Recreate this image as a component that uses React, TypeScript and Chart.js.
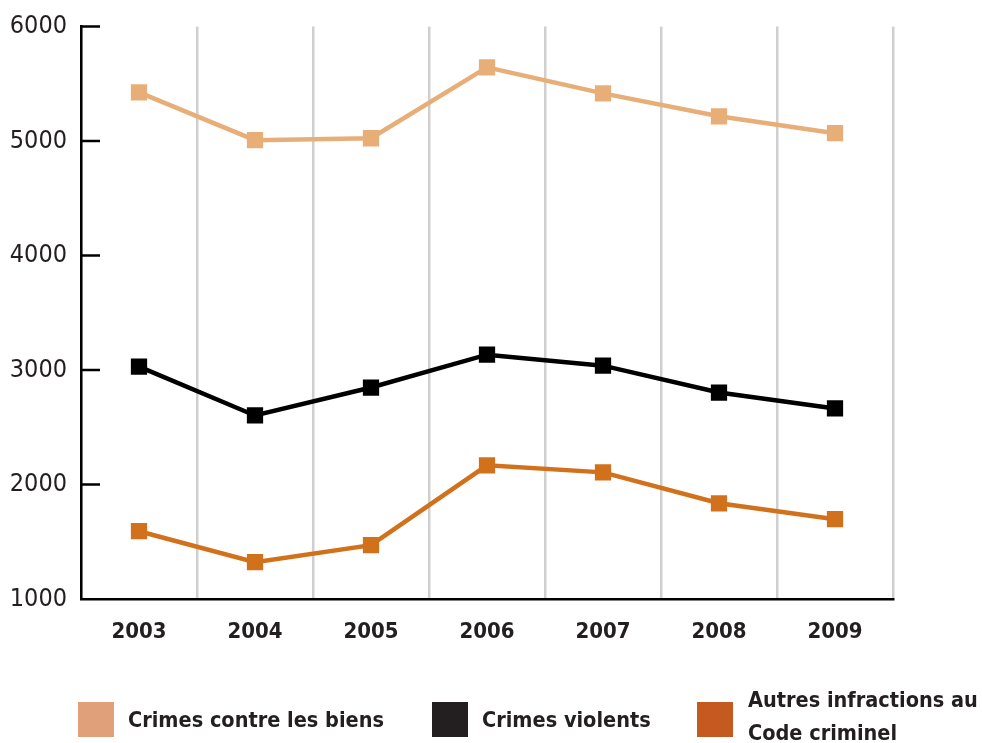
import React, { useEffect, useRef } from "react";
import { Chart, registerables } from "chart.js";

Chart.register(...registerables);

const years = ["2003", "2004", "2005", "2006", "2007", "2008", "2009"];
const crimesBiens = [5425, 5007, 5024, 5643, 5416, 5216, 5068];
const crimesViolents = [3030, 2603, 2847, 3134, 3038, 2803, 2664];
const autresInfractions = [1592, 1322, 1470, 2167, 2106, 1836, 1697];
const yTicks = [1000, 2000, 3000, 4000, 5000, 6000];

const FONT = '"DejaVu Sans Condensed", "Open Sans", sans-serif';
const TEXT = "#231f20";

const legendItems = [
  { label: ["Crimes contre les biens"], color: "#e0a07a", x: 78, textX: 128 },
  { label: ["Crimes violents"], color: "#231f20", x: 432, textX: 482 },
  { label: ["Autres infractions au", "Code criminel"], color: "#c45a20", x: 697, textX: 748 },
];

// Short inward tick marks on the value axis
const innerTicks = {
  id: "innerTicks",
  afterDraw(chart: any) {
    const { ctx, scales, chartArea } = chart;
    const y = scales.y;
    ctx.save();
    ctx.strokeStyle = "#000";
    ctx.lineWidth = 2.5;
    yTicks.forEach((v) => {
      if (v === 1000) return;
      const py = y.getPixelForValue(v);
      ctx.beginPath();
      ctx.moveTo(chartArea.left, py);
      ctx.lineTo(chartArea.left + 19, py);
      ctx.stroke();
    });
    ctx.restore();
  },
};

export default function App() {
  const ref = useRef<HTMLCanvasElement>(null);

  useEffect(() => {
    if (!ref.current) return;
    const ds = (label: string, data: number[], color: string) => ({
      label,
      data,
      borderColor: color,
      backgroundColor: color,
      borderWidth: 4.5,
      pointStyle: "rect" as const,
      pointRadius: 11.5,
      pointBorderWidth: 0,
      pointHoverRadius: 11.5,
      tension: 0,
    });
    const chart = new Chart(ref.current, {
      type: "line",
      data: {
        labels: years,
        datasets: [
          ds("Crimes contre les biens", crimesBiens, "#e8ae78"),
          ds("Crimes violents", crimesViolents, "#000000"),
          ds("Autres infractions au Code criminel", autresInfractions, "#d2711c"),
        ],
      },
      options: {
        responsive: false,
        animation: false,
        layout: { padding: { top: 25, right: 89, left: 0, bottom: 0 } },
        plugins: { legend: { display: false }, tooltip: { enabled: false } },
        scales: {
          x: {
            offset: true,
            grid: {
              offset: true,
              color: "#cfcfcf",
              lineWidth: 2.5,
              drawTicks: false,
            },
            border: { display: true, color: "#000", width: 2.5 },
            ticks: {
              color: TEXT,
              padding: 20,
              font: { family: FONT, size: 22, weight: "bold" },
            },
            afterFit: (s: any) => {
              s.height = 144;
            },
          },
          y: {
            min: 1000,
            max: 6000,
            grid: { display: false, drawTicks: false },
            border: { display: true, color: "#000", width: 2.5 },
            ticks: {
              stepSize: 1000,
              color: TEXT,
              padding: 14,
              font: { family: FONT, size: 25, lineHeight: 1 },
              callback: (v: any) => String(v),
            },
            afterFit: (s: any) => {
              s.width = 81;
            },
          },
        },
      },
      plugins: [innerTicks],
    });
    return () => chart.destroy();
  }, []);

  return (
    <div style={{ position: "absolute", left: 0, top: 0, width: 982, height: 743, background: "#fff" }}>
      <canvas ref={ref} width={982} height={743} style={{ width: 982, height: 743, display: "block" }} />
      {legendItems.map((it) => (
        <React.Fragment key={it.label[0]}>
          <div
            style={{
              position: "absolute",
              left: it.x,
              top: 702,
              width: 36,
              height: 35,
              background: it.color,
            }}
          />
          <div
            style={{
              position: "absolute",
              left: it.textX,
              top: it.label.length > 1 ? 683 : 703,
              fontFamily: FONT,
              fontWeight: "bold",
              fontSize: 21.5,
              lineHeight: "33px",
              color: TEXT,
              whiteSpace: "nowrap",
            }}
          >
            {it.label.map((l) => (
              <div key={l}>{l}</div>
            ))}
          </div>
        </React.Fragment>
      ))}
    </div>
  );
}
